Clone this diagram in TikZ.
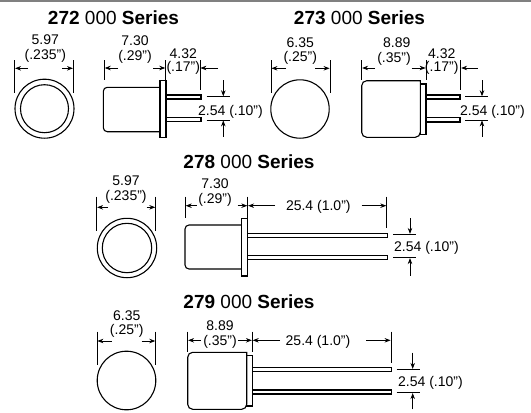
\documentclass[tikz,border=0pt]{standalone}
\usepackage{fontspec}
\setmainfont{Liberation Sans}
\usetikzlibrary{arrows.meta}
\tikzset{
  part/.style={draw=black,line width=1.1pt,fill=white},
  pin/.style={draw=black,line width=1.4pt,fill=white},
  extline/.style={draw=black,line width=0.8pt},
  arr/.style={draw=black,line width=0.8pt,-{Stealth[length=6pt,width=4.5pt]}},
  dimtext/.style={font=\fontsize{14}{14}\selectfont,inner sep=0pt,text height=10pt,text depth=0pt},
  dimleft/.style={dimtext,anchor=west},
  title/.style={font=\fontsize{19}{19}\selectfont,inner sep=0pt,text height=13pt,text depth=0pt}
}
\begin{document}
\begin{tikzpicture}[x=1pt,y=-1pt]
\useasboundingbox (0,0) rectangle (531,413);
\fill[white] (0,0) rectangle (531,413);
\fill[black!50] (0,0) rectangle (531,2);
% ---- 272
\node[title] (t272) at (113.5,18) {\textbf{272} 000 \textbf{Series}};
\draw[part] (44.5,108.7) circle (29.5);
\draw[part] (44.5,108.7) circle (24);
\draw[extline] (14.7,60) -- (14.7,93.3) (73.3,60) -- (73.3,93.3);
\draw[arr] (28,68.3) -- (15,68.3);
\draw[arr] (62,68.3) -- (73,68.3);
\node[dimtext] (a1) at (45.3,39) {5.97};
\node[dimtext] (a2) at (45.3,54) {(.235")};
\draw[part,rounded corners=4pt] (160,87.3) -- (103.3,87.3) -- (103.3,131.7) -- (160,131.7);
\draw[part] (160,80.7) rectangle (166,137.3);
\draw[pin] (166,95) rectangle (201,99);
\draw[pin] (166,117.5) rectangle (201,121.5);
\draw[extline] (104.3,60) -- (104.3,80) (165.7,60) -- (165.7,80) (200,60) -- (200,90);
\draw[arr] (118,68) -- (104.7,68);
\draw[arr] (153,68) -- (165.3,68);
\draw[arr] (218,68) -- (200.4,68);
\node[dimtext] (a3) at (135,40) {7.30};
\node[dimtext] (a4) at (135,55.7) {(.29")};
\node[dimtext] (a5) at (183.3,53) {4.32};
\node[dimtext] (a6) at (183.3,66) {(.17")};
\draw[extline] (206.7,96.7) -- (230,96.7) (206.7,120) -- (230,120);
\draw[arr] (223.3,80) -- (223.3,96.3);
\draw[arr] (223.3,136.7) -- (223.3,120.4);
\node[dimleft] (a7) at (198,110) {2.54 (.10")};
% ---- 273
\node[title] (t273) at (359.5,18) {\textbf{273} 000 \textbf{Series}};
\draw[part] (300,109) circle (29.2);
\draw[extline] (271,60) -- (271,93.3) (330,60) -- (330,93.3);
\draw[arr] (286,68.3) -- (271.4,68.3);
\draw[arr] (315,68.3) -- (329.6,68.3);
\node[dimtext] (b1) at (300.3,42) {6.35};
\node[dimtext] (b2) at (300.3,56) {(.25")};
\draw[part] (420.3,84) rectangle (426,134.3);
\draw[part,rounded corners=5pt] (420.3,80.7) -- (361.7,80.7) -- (361.7,137.3) -- (420.3,137.3) [sharp corners] -- cycle;
\draw[pin] (426,95) rectangle (460,99);
\draw[pin] (426,117.5) rectangle (460,122);
\draw[extline] (361.7,60) -- (361.7,80) (426,60) -- (426,80) (460.7,60) -- (460.7,90);
\draw[arr] (375,68) -- (362.1,68);
\draw[arr] (411.7,68) -- (425.6,68);
\draw[arr] (477.7,68) -- (461.1,68);
\node[dimtext] (b3) at (396.7,42) {8.89};
\node[dimtext] (b4) at (394,57) {(.35")};
\node[dimtext] (b5) at (441.7,53) {4.32};
\node[dimtext] (b6) at (441.7,66) {(.17")};
\draw[extline] (465,96.7) -- (488,96.7) (465,120) -- (488,120);
\draw[arr] (482,80) -- (482,96.3);
\draw[arr] (482,136.7) -- (482,120.4);
\node[dimleft] (b7) at (460,110) {2.54 (.10")};
% ---- 278
\node[title] (t278) at (249,161.7) {\textbf{278} 000 \textbf{Series}};
\draw[part] (127,248) circle (29.7);
\draw[part] (127,248) circle (24.7);
\draw[extline] (96.7,196.7) -- (96.7,231) (155.7,196.7) -- (155.7,231);
\draw[arr] (108,207.3) -- (97.1,207.3);
\draw[arr] (146.7,207.3) -- (155.3,207.3);
\node[dimtext] (c1) at (126,180) {5.97};
\node[dimtext] (c2) at (126,195.7) {(.235")};
\draw[part,rounded corners=4pt] (241.7,225) -- (185,225) -- (185,269) -- (241.7,269);
\draw[part] (241.7,218.3) rectangle (247.7,276);
\draw[pin] (247.7,233.3) rectangle (387.7,237.3);
\draw[pin] (247.7,255.7) rectangle (387.7,259.7);
\draw[extline] (185.3,196.7) -- (185.3,218.3) (247.7,196.7) -- (247.7,218.3) (386.7,196.7) -- (386.7,228.3);
\draw[arr] (196.7,205.7) -- (185.7,205.7);
\draw[arr] (237.7,205.7) -- (247.3,205.7);
\draw[arr] (275,205.7) -- (248.1,205.7);
\draw[arr] (361.7,205.7) -- (386.3,205.7);
\node[dimtext] (c3) at (215,183.3) {7.30};
\node[dimtext] (c4) at (215,198.3) {(.29")};
\node[dimtext] (c5) at (318.3,205.7) {25.4 (1.0")};
\draw[extline] (393.3,234.3) -- (416,234.3) (393.3,257.7) -- (416,257.7);
\draw[arr] (410,218.3) -- (410,233.9);
\draw[arr] (410,275.7) -- (410,258.1);
\node[dimleft] (c6) at (394,246.7) {2.54 (.10")};
% ---- 279
\node[title] (t279) at (249,301.7) {\textbf{279} 000 \textbf{Series}};
\draw[part] (126.5,380.5) circle (29.3);
\draw[extline] (97,331.7) -- (97,365) (155.7,331.7) -- (155.7,365);
\draw[arr] (111.7,341) -- (97.4,341);
\draw[arr] (141.7,341) -- (155.3,341);
\node[dimtext] (d1) at (126.7,315) {6.35};
\node[dimtext] (d2) at (126.7,329.3) {(.25")};
\draw[part] (246.7,355.7) rectangle (252.3,406);
\draw[part,rounded corners=5pt] (246.7,352.3) -- (187.7,352.3) -- (187.7,409.3) -- (246.7,409.3) [sharp corners] -- cycle;
\draw[pin] (252.3,367.7) rectangle (391.7,371.7);
\draw[pin] (252.3,390) rectangle (391.7,394);
\draw[extline] (187.7,331.7) -- (187.7,352.3) (252.3,331.7) -- (252.3,352.3) (391,331.7) -- (391,363.3);
\draw[arr] (200.7,340.3) -- (188.1,340.3);
\draw[arr] (238,340.3) -- (251.9,340.3);
\draw[arr] (280,340.3) -- (252.7,340.3);
\draw[arr] (366,340.3) -- (390.6,340.3);
\node[dimtext] (d3) at (220,325) {8.89};
\node[dimtext] (d4) at (220,340) {(.35")};
\node[dimtext] (d5) at (318,340) {25.4 (1.0")};
\draw[extline] (396.7,369.3) -- (420,369.3) (396.7,392.7) -- (420,392.7);
\draw[arr] (412.7,352.7) -- (412.7,368.9);
\draw[arr] (412.7,409.3) -- (412.7,393.1);
\node[dimleft] (d6) at (398,381.7) {2.54 (.10")};
\end{tikzpicture}
\end{document}
